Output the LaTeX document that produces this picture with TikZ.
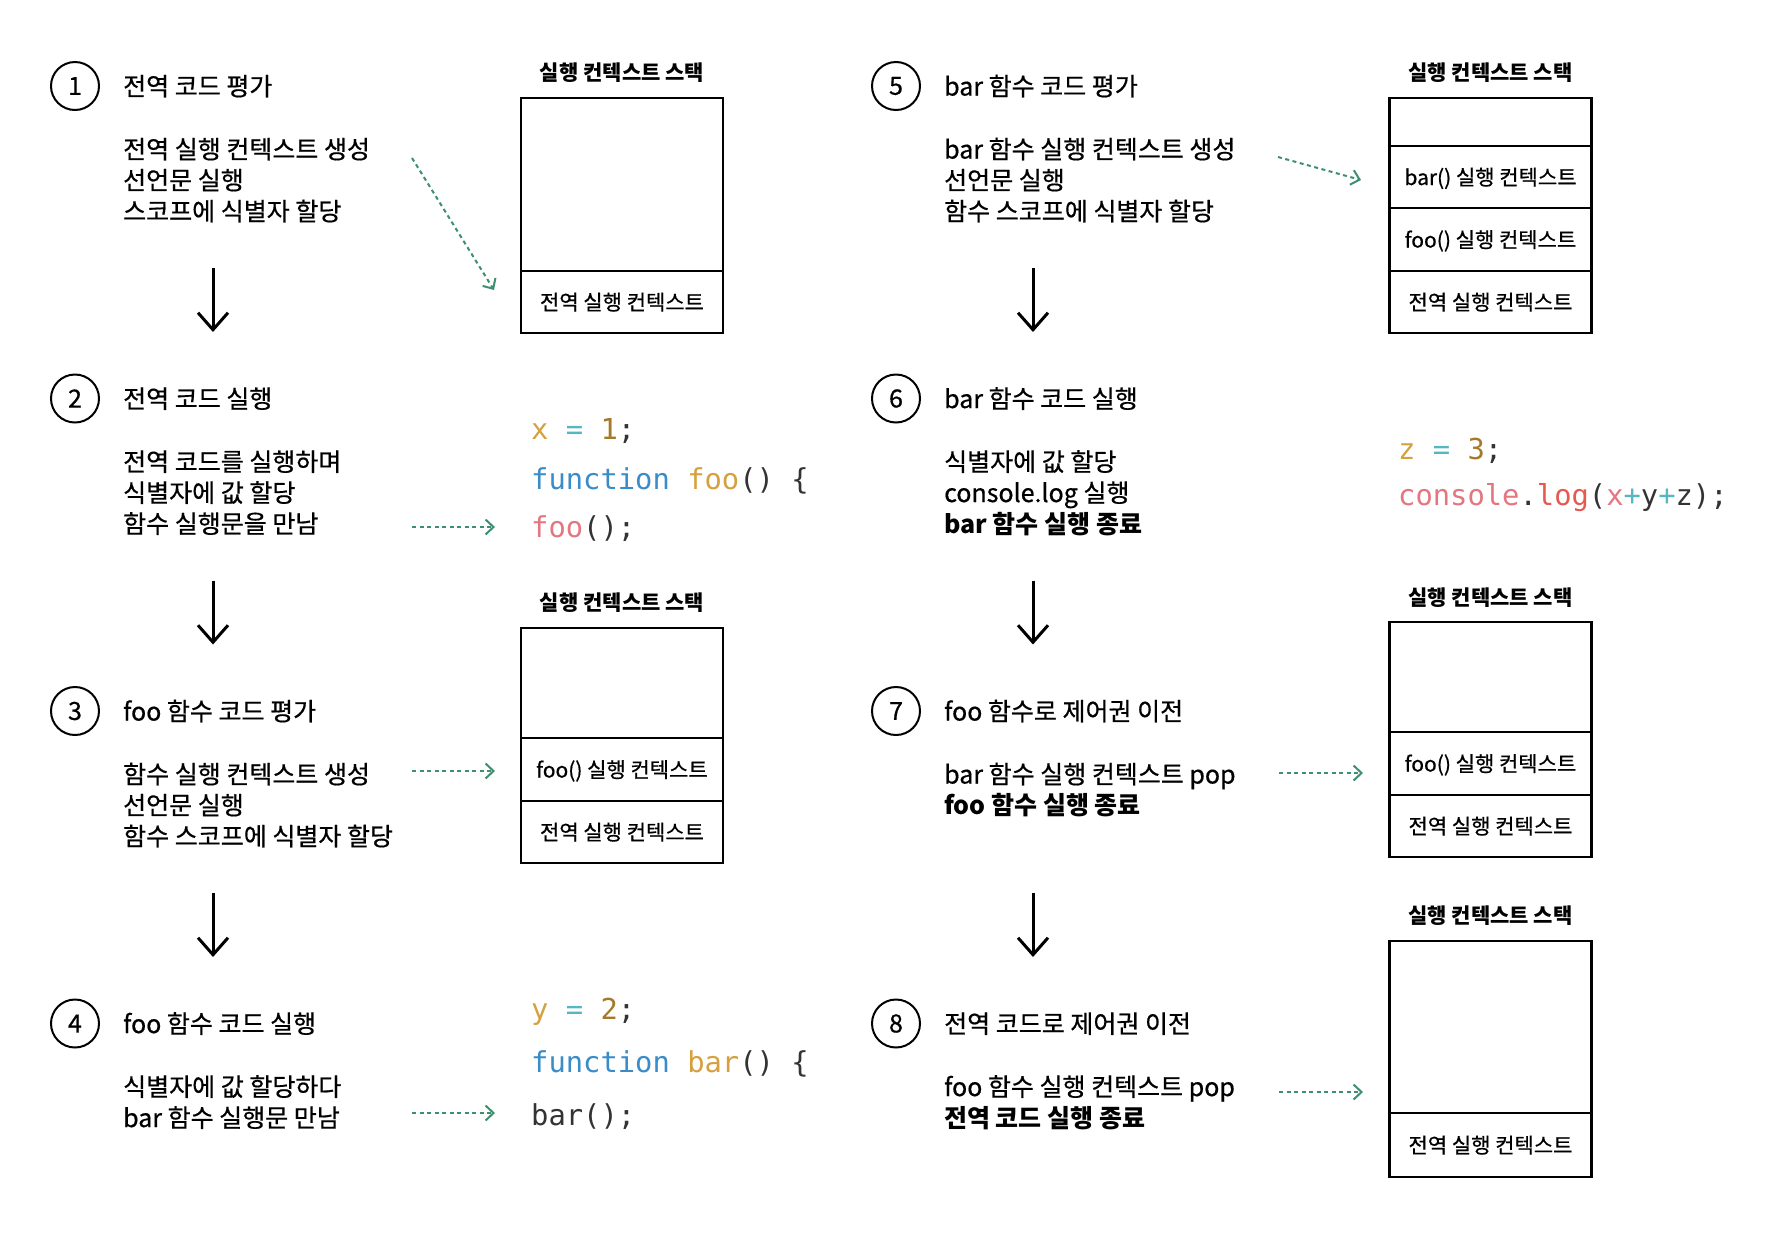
\documentclass[tikz,border=0pt]{standalone}
\usepackage{fontspec}
\setmainfont{Noto Sans CJK KR}[UprightFeatures={FakeBold=0.6}]
\newfontfamily\codefont{DejaVu Sans Mono}
\usetikzlibrary{arrows.meta}
\definecolor{cid}{RGB}{214,160,62}
\definecolor{ceq}{RGB}{86,182,194}
\definecolor{cnum}{RGB}{166,120,42}
\definecolor{ckw}{RGB}{58,140,200}
\definecolor{cpink}{RGB}{228,118,128}
\definecolor{cred}{RGB}{230,88,82}
\definecolor{cdark}{RGB}{51,51,51}
\definecolor{cgreen}{RGB}{62,142,112}
\tikzset{
  txt/.style={anchor=base west, inner sep=0pt, font=\fontsize{25}{30}\selectfont},
  btxt/.style={anchor=base west, inner sep=0pt, font=\fontsize{25}{30}\selectfont\bfseries},
  num/.style={circle, draw, line width=2pt, minimum size=48pt, inner sep=0pt, font=\fontsize{25}{30}\selectfont},
  stitle/.style={anchor=base, inner sep=0pt, font=\fontsize{21}{24}\selectfont\bfseries},
  cell/.style={draw, line width=2.2pt, outer sep=0pt, minimum width=202pt, inner sep=0pt, text height=16.5pt, text depth=0.5pt, font=\fontsize{21}{24}\selectfont, anchor=north},
  code/.style={anchor=base west, inner sep=0pt, font=\codefont\fontsize{28.8}{32}\selectfont, text=cdark},
  flow/.style={line width=3pt, -{Straight Barb[length=17pt,width=30pt]}},
  link/.style={draw=cgreen, line width=2pt, dash pattern=on 4pt off 3.5pt, -{Straight Barb[length=8pt,width=15pt]}},
}
\begin{document}
\begin{tikzpicture}[x=1pt,y=-1pt]
\fill[white] (0,0) rectangle (1788,1232);
\useasboundingbox (0,0) rectangle (1788,1232);

% ---------- left column ----------
\node[num] (c1) at (75,86) {1};
\node[txt] (h1) at (123,95.5) {전역 코드 평가};
\node[txt] (b1a) at (123,158.5) {전역 실행 컨텍스트 생성};
\node[txt] (b1b) at (123,189.5) {선언문 실행};
\node[txt] (b1c) at (123,220.5) {스코프에 식별자 할당};

\node[num] (c2) at (75,398.5) {2};
\node[txt] (h2) at (123,408) {전역 코드 실행};
\node[txt] (b2a) at (123,471) {전역 코드를 실행하며};
\node[txt] (b2b) at (123,502) {식별자에 값 할당};
\node[txt] (b2c) at (123,533) {함수 실행문을 만남};

\node[num] (c3) at (75,711) {3};
\node[txt] (h3) at (123,720.5) {foo 함수 코드 평가};
\node[txt] (b3a) at (123,783.5) {함수 실행 컨텍스트 생성};
\node[txt] (b3b) at (123,814.5) {선언문 실행};
\node[txt] (b3c) at (123,845.5) {함수 스코프에 식별자 할당};

\node[num] (c4) at (75,1023.5) {4};
\node[txt] (h4) at (123,1033) {foo 함수 코드 실행};
\node[txt] (b4a) at (123,1096) {식별자에 값 할당하다};
\node[txt] (b4b) at (123,1127) {bar 함수 실행문 만남};

% ---------- right column ----------
\node[num] (c5) at (896,86) {5};
\node[txt] (h5) at (944,95.5) {bar 함수 코드 평가};
\node[txt] (b5a) at (944,158.5) {bar 함수 실행 컨텍스트 생성};
\node[txt] (b5b) at (944,189.5) {선언문 실행};
\node[txt] (b5c) at (944,220.5) {함수 스코프에 식별자 할당};

\node[num] (c6) at (896,398.5) {6};
\node[txt] (h6) at (944,408) {bar 함수 코드 실행};
\node[txt] (b6a) at (944,471) {식별자에 값 할당};
\node[txt] (b6b) at (944,502) {console.log 실행};
\node[btxt] (b6c) at (944,533) {bar 함수 실행 종료};

\node[num] (c7) at (896,711) {7};
\node[txt] (h7) at (944,720.5) {foo 함수로 제어권 이전};
\node[txt] (b7a) at (944,783.5) {bar 함수 실행 컨텍스트 pop};
\node[btxt] (b7b) at (944,814.5) {foo 함수 실행 종료};

\node[num] (c8) at (896,1023.5) {8};
\node[txt] (h8) at (944,1033) {전역 코드로 제어권 이전};
\node[txt] (b8a) at (944,1096) {foo 함수 실행 컨텍스트 pop};
\node[btxt] (b8b) at (944,1127) {전역 코드 실행 종료};

% ---------- stacks ----------
\node[stitle] (t1) at (622,80) {실행 컨텍스트 스택};
\node[cell, minimum height=173pt] (s1e) at (622,98) {};
\node[cell, minimum height=62pt] (s1g) at (s1e.south) {전역 실행 컨텍스트};

\node[stitle] (t2) at (622,610) {실행 컨텍스트 스택};
\node[cell, minimum height=110pt] (s2e) at (622,628) {};
\node[cell, minimum height=63pt] (s2f) at (s2e.south) {foo() 실행 컨텍스트};
\node[cell, minimum height=62pt] (s2g) at (s2f.south) {전역 실행 컨텍스트};

\node[stitle] (t5) at (1490.5,80) {실행 컨텍스트 스택};
\node[cell, minimum height=48pt] (s5e) at (1490.5,98) {};
\node[cell, minimum height=62pt] (s5b) at (s5e.south) {bar() 실행 컨텍스트};
\node[cell, minimum height=63pt] (s5f) at (s5b.south) {foo() 실행 컨텍스트};
\node[cell, minimum height=62pt] (s5g) at (s5f.south) {전역 실행 컨텍스트};

\node[stitle] (t7) at (1490.5,605) {실행 컨텍스트 스택};
\node[cell, minimum height=110pt] (s7e) at (1490.5,622) {};
\node[cell, minimum height=63pt] (s7f) at (s7e.south) {foo() 실행 컨텍스트};
\node[cell, minimum height=62pt] (s7g) at (s7f.south) {전역 실행 컨텍스트};

\node[stitle] (t8) at (1490.5,923) {실행 컨텍스트 스택};
\node[cell, minimum height=172pt] (s8e) at (1490.5,941) {};
\node[cell, minimum height=64pt] (s8g) at (s8e.south) {전역 실행 컨텍스트};

% ---------- code ----------
\node[code] (k2a) at (531,439) {\textcolor{cid}{x} \textcolor{ceq}{=} \textcolor{cnum}{1};};
\node[code] (k2b) at (531,489) {\textcolor{ckw}{function} \textcolor{cid}{foo}() \{};
\node[code] (k2c) at (531,537) {\textcolor{cpink}{foo}();};

\node[code] (k4a) at (531,1019) {\textcolor{cid}{y} \textcolor{ceq}{=} \textcolor{cnum}{2};};
\node[code] (k4b) at (531,1072) {\textcolor{ckw}{function} \textcolor{cid}{bar}() \{};
\node[code] (k4c) at (531,1125) {bar();};

\node[code] (k6a) at (1398,459) {\textcolor{cid}{z} \textcolor{ceq}{=} \textcolor{cnum}{3};};
\node[code] (k6b) at (1398,505) {\textcolor{cpink}{console}.\textcolor{cred}{log}(\textcolor{cpink}{x}\textcolor{ceq}{+}y\textcolor{ceq}{+}z);};

% ---------- flow arrows ----------
\coordinate (d1s) at (213,268);  \coordinate (d1e) at (213,332);
\coordinate (d2s) at (213,580.5); \coordinate (d2e) at (213,644.5);
\coordinate (d3s) at (213,893);  \coordinate (d3e) at (213,957);
\coordinate (d5s) at (1033,268);  \coordinate (d5e) at (1033,332);
\coordinate (d6s) at (1033,580.5); \coordinate (d6e) at (1033,644.5);
\coordinate (d7s) at (1033,893);  \coordinate (d7e) at (1033,957);
\draw[flow] (d1s) -- (d1e);
\draw[flow] (d2s) -- (d2e);
\draw[flow] (d3s) -- (d3e);
\draw[flow] (d5s) -- (d5e);
\draw[flow] (d6s) -- (d6e);
\draw[flow] (d7s) -- (d7e);

% ---------- dotted links ----------
\coordinate (l1s) at (412,158);  \coordinate (l1e) at (494,290);
\coordinate (l2s) at (412,527);  \coordinate (l2e) at (495,527);
\coordinate (l3s) at (412,771);  \coordinate (l3e) at (495,771);
\coordinate (l4s) at (412,1113); \coordinate (l4e) at (495,1113);
\coordinate (l5s) at (1278,157); \coordinate (l5e) at (1361,180);
\coordinate (l7s) at (1279,773); \coordinate (l7e) at (1363,773);
\coordinate (l8s) at (1279,1092); \coordinate (l8e) at (1363,1092);
\draw[link] (l1s) -- (l1e);
\draw[link] (l2s) -- (l2e);
\draw[link] (l3s) -- (l3e);
\draw[link] (l4s) -- (l4e);
\draw[link] (l5s) -- (l5e);
\draw[link] (l7s) -- (l7e);
\draw[link] (l8s) -- (l8e);
\end{tikzpicture}
\end{document}
